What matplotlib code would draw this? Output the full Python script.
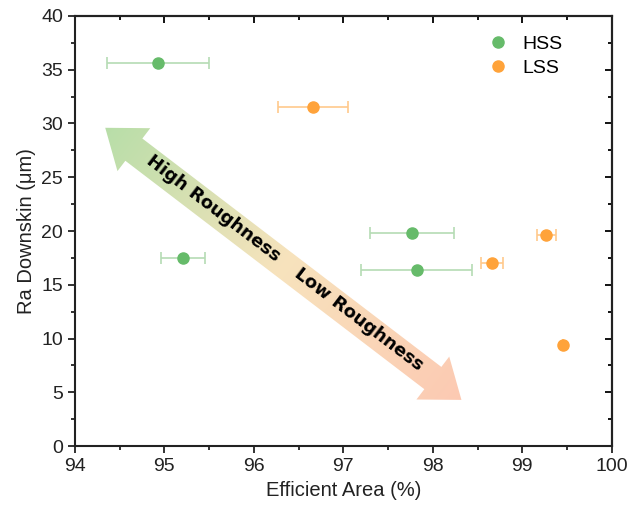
import numpy as np
import matplotlib.pyplot as plt
from matplotlib.path import Path
from matplotlib.patches import PathPatch
from matplotlib.lines import Line2D
from matplotlib.ticker import MultipleLocator

plt.rcParams['font.family'] = ['Liberation Sans', 'DejaVu Sans']

# HSS: efficient area (%), Ra downskin (um), x error
hss_area = [94.93, 95.21, 97.77, 97.82]
hss_ra = [35.6, 17.5, 19.8, 16.4]
hss_err = [0.57, 0.25, 0.47, 0.62]

# LSS
lss_area = [96.66, 99.27, 98.66, 99.45]
lss_ra = [31.5, 19.6, 17.0, 9.4]
lss_err = [0.39, 0.11, 0.12, 0.0]

# arrow endpoints (data coords)
arrow_start = (94.34, 29.6)
arrow_end = (98.32, 4.3)

fig = plt.figure(figsize=(6.34, 5.14), dpi=100)
ax = fig.add_axes([0.118, 0.132, 0.847, 0.837])

green, green_l = "#66bb6a", "#b5dcb4"
orange, orange_l = "#ffa33a", "#ffc98c"

ax.errorbar(hss_area, hss_ra, xerr=hss_err, fmt="o", color=green, ms=8,
            ecolor=green_l, elinewidth=1.2, capsize=4, capthick=1.2,
            zorder=3)
ax.errorbar(lss_area, lss_ra, xerr=lss_err, fmt="o", color=orange, ms=8,
            ecolor=orange_l, elinewidth=1.2, capsize=4, capthick=1.2,
            zorder=3)

ax.set_xlim(94, 100)
ax.set_ylim(0, 40)
ax.xaxis.set_major_locator(MultipleLocator(1))
ax.xaxis.set_minor_locator(MultipleLocator(0.5))
ax.yaxis.set_major_locator(MultipleLocator(5))
ax.yaxis.set_minor_locator(MultipleLocator(2.5))
ax.tick_params(which="both", direction="out", width=1.3, labelsize=14,
               colors="#222222")
ax.tick_params(which="major", length=5)
ax.tick_params(which="minor", length=3)
for s in ax.spines.values():
    s.set_linewidth(1.5)
    s.set_color("#222222")

# inward ticks on top/right
top = ax.secondary_xaxis("top")
top.xaxis.set_major_locator(MultipleLocator(1))
top.xaxis.set_minor_locator(MultipleLocator(0.5))
top.tick_params(which="both", direction="in", width=1.3, labeltop=False)
top.tick_params(which="major", length=5)
top.tick_params(which="minor", length=3)
top.spines["top"].set_linewidth(1.5)
right = ax.secondary_yaxis("right")
right.yaxis.set_major_locator(MultipleLocator(5))
right.yaxis.set_minor_locator(MultipleLocator(2.5))
right.tick_params(which="both", direction="in", width=1.3, labelright=False)
right.tick_params(which="major", length=5)
right.tick_params(which="minor", length=3)
right.spines["right"].set_linewidth(1.5)

ax.set_xlabel("Efficient Area (%)", fontsize=14.5, color="#222222")
ax.set_ylabel("Ra Downskin (\u03bcm)", fontsize=14.5, color="#222222")

handles = [Line2D([], [], ls="none", marker="o", ms=8, color=green),
           Line2D([], [], ls="none", marker="o", ms=8, color=orange)]
ax.legend(handles, ["HSS", "LSS"], loc="upper right",
          bbox_to_anchor=(0.94, 0.995), frameon=False, fontsize=14,
          handletextpad=0.5, labelspacing=0.3, handlelength=1.5)

# ---- gradient double arrow -------------------------------------------------
fig.canvas.draw()
p0 = ax.transData.transform(arrow_start)
p1 = ax.transData.transform(arrow_end)
d = p1 - p0
L = np.hypot(*d)
u = d / L
n = np.array([-u[1], u[0]])
shaft_w, head_w, head_l = 28, 54, 36
pts_local = [
    (0, 0), (head_l, head_w / 2), (head_l, shaft_w / 2),
    (L - head_l, shaft_w / 2), (L - head_l, head_w / 2), (L, 0),
    (L - head_l, -head_w / 2), (L - head_l, -shaft_w / 2),
    (head_l, -shaft_w / 2), (head_l, -head_w / 2), (0, 0)]
verts = np.array([p0 + a * u + b * n for a, b in pts_local])
codes = [Path.MOVETO] + [Path.LINETO] * (len(verts) - 2) + [Path.CLOSEPOLY]
path = Path(verts, codes)

W, H = fig.canvas.get_width_height()
ov = fig.add_axes([0, 0, 1, 1], zorder=5)
ov.set_xlim(0, W)
ov.set_ylim(0, H)
ov.axis("off")
ov.patch.set_alpha(0)

xs, ys = np.meshgrid(np.arange(W) + 0.5, np.arange(H) + 0.5)
t = ((xs - p0[0]) * u[0] + (ys - p0[1]) * u[1]) / L
t = np.clip(t, 0, 1)[..., None]
c0 = np.array([0.72, 0.87, 0.66])
c1 = np.array([0.97, 0.89, 0.74])
c2 = np.array([0.99, 0.79, 0.70])
img = np.where(t < 0.5, c0 + (c1 - c0) * (t / 0.5),
               c1 + (c2 - c1) * ((t - 0.5) / 0.5))
im = ov.imshow(img, origin="lower", extent=(0, W, 0, H),
               interpolation="bilinear", aspect="auto")
patch = PathPatch(path, transform=ov.transData, fc="none", ec="none")
ov.add_patch(patch)
im.set_clip_path(patch)

ang = np.degrees(np.arctan2(d[1], d[0]))
ctr_hi = p0 + 0.30 * L * u + 1.5 * n
ctr_lo = p0 + 0.71 * L * u + 1.5 * n
for ctr, lbl in [(ctr_hi, "High Roughness"), (ctr_lo, "Low Roughness")]:
    ov.text(*ctr, lbl, rotation=ang, ha="center", va="center",
            fontsize=13, fontweight="bold", family="DejaVu Sans",
            rotation_mode="anchor")

fig.savefig("out.png", dpi=100)
